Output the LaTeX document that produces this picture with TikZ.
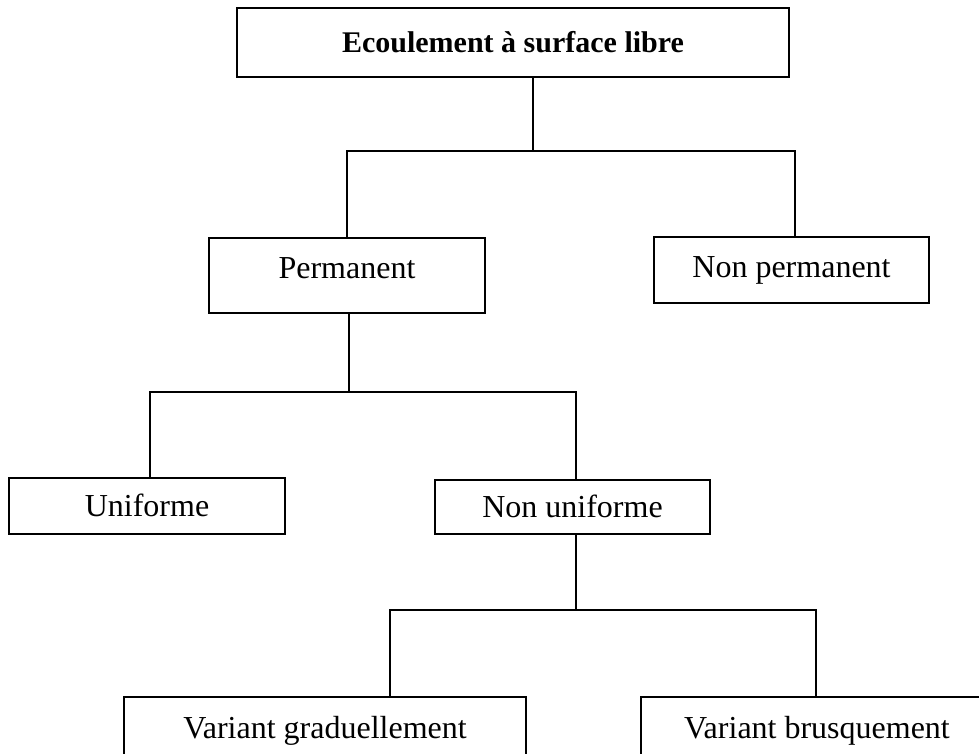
\documentclass[tikz,border=0pt]{standalone}
\usepackage{fontspec}
\setmainfont{Liberation Serif}
\tikzset{
  boite/.style={draw,rectangle,line width=1.5pt,inner sep=0pt,text height=20pt,text depth=0pt,font=\fontsize{32}{36}\selectfont},
  lien/.style={line width=1.1pt}
}

\begin{document}
\begin{tikzpicture}[x=1pt,y=-1pt]
\useasboundingbox (0,0) rectangle (979,754);
\begin{scope}
\clip (0,0) rectangle (979,754);
% boites
\node[boite,minimum width=552,minimum height=69,font=\bfseries\fontsize{30}{36}\selectfont] (titre) at (513,42.5) {Ecoulement à surface libre};
\node[boite,minimum width=276,minimum height=75,text depth=15pt] (perm) at (347,275.5) {Permanent};
\node[boite,minimum width=275,minimum height=66,text depth=5pt] (nonperm) at (791.5,270) {Non permanent};
\node[boite,minimum width=276,minimum height=56] (unif) at (147,506) {Uniforme};
\node[boite,minimum width=275,minimum height=54] (nonunif) at (572.5,507) {Non uniforme};
\node[boite,minimum width=402,minimum height=62] (vargrad) at (325,728) {Variant graduellement};
\node[boite,minimum width=352,minimum height=62] (varbrus) at (817,728) {Variant brusquement};
% branchements
\coordinate (b1) at (533,151); \coordinate (g1) at (347,151); \coordinate (d1) at (795,151);
\coordinate (b2) at (349,392); \coordinate (g2) at (150,392); \coordinate (d2) at (576,392);
\coordinate (b3) at (576,610); \coordinate (g3) at (390,610); \coordinate (d3) at (816,610);
\draw[lien] (titre.south -| b1)--(b1);
\draw[lien] (perm.north -| g1) |- (d1)--(nonperm.north -| d1);
\draw[lien] (perm.south -| b2)--(b2);
\draw[lien] (unif.north -| g2) |- (d2)--(nonunif.north -| d2);
\draw[lien] (nonunif.south -| b3)--(b3);
\draw[lien] (vargrad.north -| g3) |- (d3)--(varbrus.north -| d3);
\end{scope}
\end{tikzpicture}
\end{document}
